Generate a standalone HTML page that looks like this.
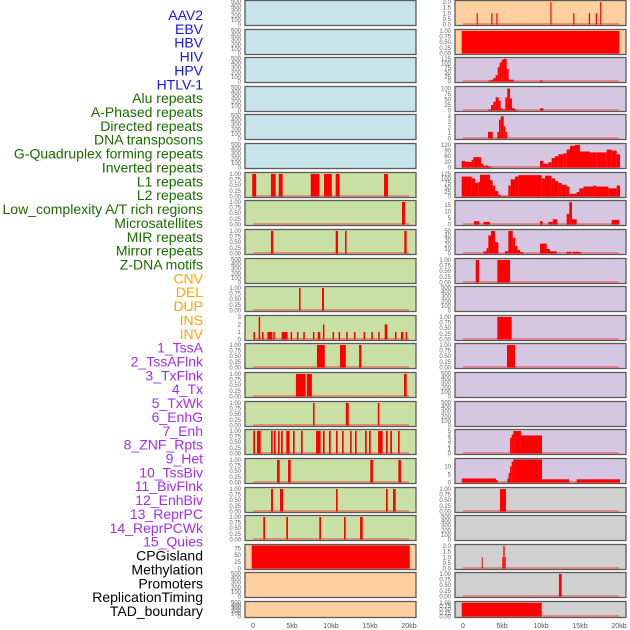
<!DOCTYPE html>
<html><head><meta charset="utf-8"><style>
body{margin:0;background:#fff;width:630px;height:630px;overflow:hidden}
svg{display:block}
</style></head><body>
<svg id="chart" width="630" height="630" xmlns="http://www.w3.org/2000/svg"></svg>
<script>
// Labels
const labelTexts = ["AAV2","EBV","HBV","HIV","HPV","HTLV-1","Alu repeats","A-Phased repeats","Directed repeats","DNA transposons","G-Quadruplex forming repeats","Inverted repeats","L1 repeats","L2 repeats","Low_complexity A/T rich regions","Microsatellites","MIR repeats","Mirror repeats","Z-DNA motifs","CNV","DEL","DUP","INS","INV","1_TssA","2_TssAFlnk","3_TxFlnk","4_Tx","5_TxWk","6_EnhG","7_Enh","8_ZNF_Rpts","9_Het","10_TssBiv","11_BivFlnk","12_EnhBiv","13_ReprPC","14_ReprPCWk","15_Quies","CPGisland","Methylation","Promoters","ReplicationTiming","TAD_boundary"];
const labelGroups = [6,13,5,15,5];
const groupColors = ["#1515ee","#1a6b00","#ffa500","#a030f0","#000000"];
const xTickLabels = ["0","5kb","10kb","15kb","20kb"];
const xTickValues = [0,5,10,15,20];
// Backgrounds per row (left, right)
const leftBg = ["b","b","b","b","b","b","g","g","g","g","g","g","g","g","g","g","g","g","g","o","o","o"];
const rightBg = ["o","o","p","p","p","p","p","p","p","p","p","p","p","p","p","p","p","g2","g2","g2","g2","g2"];
// Ticks per row
const T500=[0,100,200,300,400,500], T1=[0,0.25,0.5,0.75,1];
const leftTicks = [T500,T500,T500,T500,T500,T500,T1,T1,T1,T500,T1,[0,1,2,3],T1,T1,T1,T1,T1,T1,T1,[0,25,50,75],T500,T500];
const rightTicks = [[0,0.5,1,1.5,2],T1,[0,25,50,75,100,125],[0,25,50,75,100],[0,1,2,3,4],[0,30,60,90,120],[0,25,50,75,100,125],[0,5,10,15],[0,10,20,30,40,50],T1,T500,T1,T1,T500,T500,[0,1,2,3,4,5],[0,5,10],T1,T500,[0,0.5,1,1.5,2],T1,T1];
const rightMax = [2.05,1.02,127,105,4.15,122,127,17.5,51,1.02,500,1.02,1.02,500,500,5.1,14.3,1.02,500,2.05,1.02,1.02];
const leftMax = [500,500,500,500,500,500,1.02,1.02,1.02,500,1.02,3.05,1.02,1.02,1.02,1.02,1.02,1.02,1.02,86,500,500];
// Left bars [startKb,endKb,value]
const L7=[[-0.1,0.4,1],[2.3,2.9,1],[3.3,3.8,1],[7.4,8.5,1],[9.1,10.1,1],[10.6,11.1,1],[16.8,17.3,1]];
const L8=[[19.1,19.5,1]];
const L9=[[2.3,2.6,1],[10.6,10.9,1],[11.8,12.0,1],[19.4,19.7,1]];
const L11=[[5.9,6.1,1],[8.85,9.1,1]];
const L12=[[0.05,0.25,1],[0.72,0.92,3],[1.15,1.35,1],[1.84,2.48,1],[2.6,2.8,1],[3.67,4.44,1],[4.82,5.02,1],[5.63,5.83,1],[6.44,6.64,1],[7.68,7.88,1],[8.29,8.63,1],[8.96,9.16,2],[10.2,10.4,1],[10.97,11.17,1],[11.95,12.15,1],[12.93,13.13,1],[14.17,14.37,1],[15.16,15.36,1],[16.05,16.25,1],[16.88,17.22,2],[18.2,18.4,1],[18.97,19.27,1],[19.56,19.76,1]];
const L13=[[8.2,9.2,1],[11.15,11.9,1],[13.6,13.9,1]];
const L14=[[5.5,6.75,1],[6.9,7.55,1],[19.36,19.7,1]];
const L15=[[7.7,7.9,1],[11.9,12.27,1],[16.0,16.2,1]];
const L16=[[0.04,0.26,1],[0.51,0.99,1],[2.31,2.53,1],[2.69,2.91,1],[3.21,3.42,1],[3.59,3.81,1],[4.27,4.7,1],[5.13,5.34,1],[6.15,6.37,1],[8.08,8.67,1],[8.97,9.19,1],[9.74,9.96,1],[10.64,10.85,1],[11.41,11.62,1],[12.44,12.65,1],[13.08,13.29,1],[14.36,14.58,1],[14.87,15.09,1],[16.03,16.63,1],[17.05,17.27,1],[17.6,17.82,1],[18.59,18.8,1]];
const L17=[[3.08,3.42,1],[4.49,4.83,1],[15.04,15.38,1],[18.63,18.97,1]];
const L18=[[2.31,2.56,1],[3.46,3.85,1],[10.64,10.85,1],[17.05,17.27,1],[17.95,18.29,1]];
const L19=[[1.32,1.54,1],[4.27,4.49,1],[8.5,8.72,1],[11.67,11.88,1],[13.72,14.06,1]];
const L20=[[-0.17,20.1,86]];
const leftBars=[null,null,null,null,null,null,L7,L8,L9,null,L11,L12,L13,L14,L15,L16,L17,L18,L19,L20,null,null];
// Right bars
const R1=[[1.75,1.9,1],[3.62,3.78,1],[4.27,4.42,1],[11.2,11.35,2],[14.12,14.28,1],[16.12,16.28,1],[17.02,17.18,1],[17.58,17.72,2]];
const R2=[[-0.17,20.04,1]];
const R3=[[3.25,3.6,5],[3.6,3.89,10],[3.89,4.19,20],[4.19,4.45,35],[4.45,4.7,80],[4.7,4.96,105],[4.96,5.2,120],[5.2,5.6,125],[5.6,5.85,70],[5.85,6.5,10],[9.87,10.2,5]];
const R4=[[3.25,3.59,5],[3.59,3.89,25],[3.89,4.19,40],[4.19,4.57,60],[4.57,4.83,45],[4.83,5.09,10],[5.09,5.43,5],[5.43,5.68,60],[5.68,6.03,100],[6.03,6.28,55],[6.28,6.67,10],[6.67,6.96,3],[9.87,10.3,10]];
const R5=[[3.2,3.81,1.2],[4.4,4.62,1.2],[4.62,4.84,3.4],[4.84,5.22,4],[5.22,5.43,2.2],[5.43,5.64,1.2]];
const R6=[[-0.17,0.26,35],[0.26,1.11,30],[1.11,1.32,40],[1.32,2.31,55],[2.31,2.61,20],[2.61,3.25,10],[3.25,3.68,5],[9.87,10.3,35],[10.3,10.94,20],[10.94,11.37,28],[11.37,11.79,50],[11.79,12.22,60],[12.22,12.86,70],[12.86,13.29,75],[13.29,13.72,95],[13.72,14.36,115],[14.36,15.0,120],[15.0,16.28,85],[16.28,17.14,80],[17.14,18.42,80],[18.42,19.06,95],[19.06,19.7,90],[19.7,20.13,70]];
const R7=[[-0.17,1.11,110],[1.11,1.54,100],[1.54,1.96,75],[1.96,2.18,80],[2.18,3.46,120],[3.46,3.8,90],[3.8,4.1,60],[4.1,4.53,30],[4.53,4.83,10],[4.83,5.81,2],[5.81,6.11,60],[6.11,6.67,95],[6.67,7.09,110],[7.09,10.09,118],[10.09,10.51,100],[10.51,11.37,115],[11.37,11.79,100],[11.79,12.22,85],[12.22,12.65,75],[12.65,13.29,65],[13.29,13.63,55],[13.63,14.57,15],[14.57,14.91,25],[14.91,15.43,45],[15.43,16.71,55],[16.71,17.05,60],[17.05,18.63,55],[18.63,19.7,45],[19.7,20.13,60]];
const R8=[[1.41,2.09,2.5],[2.61,3.46,2],[9.87,10.21,2.5],[10.94,11.5,2],[11.5,12.09,4],[13.29,13.63,8],[13.63,13.97,17],[13.97,14.57,4],[19.06,20.04,3.5]];
const R9=[[2.61,3.03,5],[3.03,3.25,12],[3.25,3.59,40],[3.59,4.1,50],[4.1,4.53,25],[5.38,5.81,5],[5.81,6.37,50],[6.37,6.67,35],[6.67,6.97,17],[6.97,7.31,8],[7.31,7.73,3],[9.87,10.73,22],[10.73,11.16,10],[11.16,12.01,5],[13.29,13.93,4],[14.06,14.91,4],[14.91,15.21,2]];
const R10=[[1.63,2.05,1],[4.4,6.03,1]];
const R12=[[4.4,6.24,1]];
const R13=[[5.64,6.67,1]];
const R16=[[6.03,6.24,3.5],[6.24,6.45,4.2],[6.45,7.43,5],[7.43,10.13,4]];
const R17=[[-0.17,4.23,2.5],[4.23,4.44,1.5],[5.68,5.85,2.5],[5.85,6.03,6],[6.03,6.24,10],[6.24,6.45,13],[6.45,10.13,14.3],[10.13,13.59,2],[14.57,20.13,2]];
const R18=[[4.74,5.51,1]];
const R20=[[2.4,2.52,1],[5.04,5.17,1],[5.17,5.34,2],[5.34,5.47,1]];
const R21=[[12.3,12.65,1]];
const R22=[[-0.17,10.09,1]];
const rightBars=[R1,R2,R3,R4,R5,R6,R7,R8,R9,R10,null,R12,R13,null,null,R16,R17,R18,null,R20,R21,R22];

const NS="http://www.w3.org/2000/svg";
const svg=document.getElementById('chart');
const bgCol={b:"#c8e4eb",g:"#c9e0a5",o:"#ffcf9f",p:"#d5c6e1",g2:"#d0d0d0"};
function mk(tag,attrs){const e=document.createElementNS(NS,tag);for(const k in attrs)e.setAttribute(k,attrs[k]);svg.appendChild(e);return e;}
function rowTop(i){return Math.round(i*28.62);}
function rowH(i){return i===21?16:25;}
function xScale(kb,x0){return x0+kb*7.8;}
const cols=[{x:245,w:171,zero:253,bg:leftBg,ticks:leftTicks,max:leftMax,bars:leftBars,side:'left'},
            {x:455,w:171,zero:463,bg:rightBg,ticks:rightTicks,max:rightMax,bars:rightBars,side:'right'}];
cols.forEach(c=>{
  for(let i=0;i<22;i++){
    const top=rowTop(i),h=rowH(i);
    const r=mk('rect',{x:c.x,y:top+0.5,width:c.w,height:h,fill:bgCol[c.bg[i]],stroke:"#5a5a5a","stroke-width":1.3});
    
    
    const y0=top+h-0.5, span=h-2;
    const ys=v=>y0-(v/c.max[i])*span;
    const bars=c.bars[i];
    if(bars){
      const bl=mk('rect',{x:xScale(0,c.zero),y:y0-1.5,width:7.8*20,height:2,fill:"rgba(230,60,60,0.45)"});
      
      
      bars.forEach((b,j)=>{
        const x1=Math.max(c.x+1,xScale(b[0],c.zero)), x2=Math.min(c.x+c.w-1,xScale(b[1],c.zero));
        const yt=Math.max(top+1.5,ys(b[2]));
        const br=mk('rect',{x:x1,y:yt,width:Math.max(1,x2-x1),height:y0-yt,fill:"#ff0000"});
        
        
      });
    }
    c.ticks[i].forEach(t=>{
      const tx=mk('text',{x:c.x-4,y:ys(t)+2,"font-size":6,"text-anchor":"end",fill:"#666","font-family":"Liberation Sans, sans-serif"});
      tx.textContent=(c.ticks[i]===T1)?t.toFixed(2):(c.ticks[i][1]===0.5?t.toFixed(1):String(t));
      
      
    });
  }
  xTickValues.forEach((v,k)=>{
    const tx=mk('text',{x:xScale(v,c.zero),y:628,"font-size":7,"text-anchor":"middle",fill:"#555","font-family":"Liberation Sans, sans-serif"});
    tx.textContent=xTickLabels[k];
    
    
  });
});
let idx=0;
labelGroups.forEach((n,g)=>{
  for(let k=0;k<n;k++){
    const t=mk('text',{x:203,y:15+idx*13.86+5,"font-size":14,"text-anchor":"end",fill:groupColors[g],"font-family":"Liberation Sans, sans-serif"});
    t.textContent=labelTexts[idx];
    
    
    idx++;
  }
});
</script>
</body></html>
